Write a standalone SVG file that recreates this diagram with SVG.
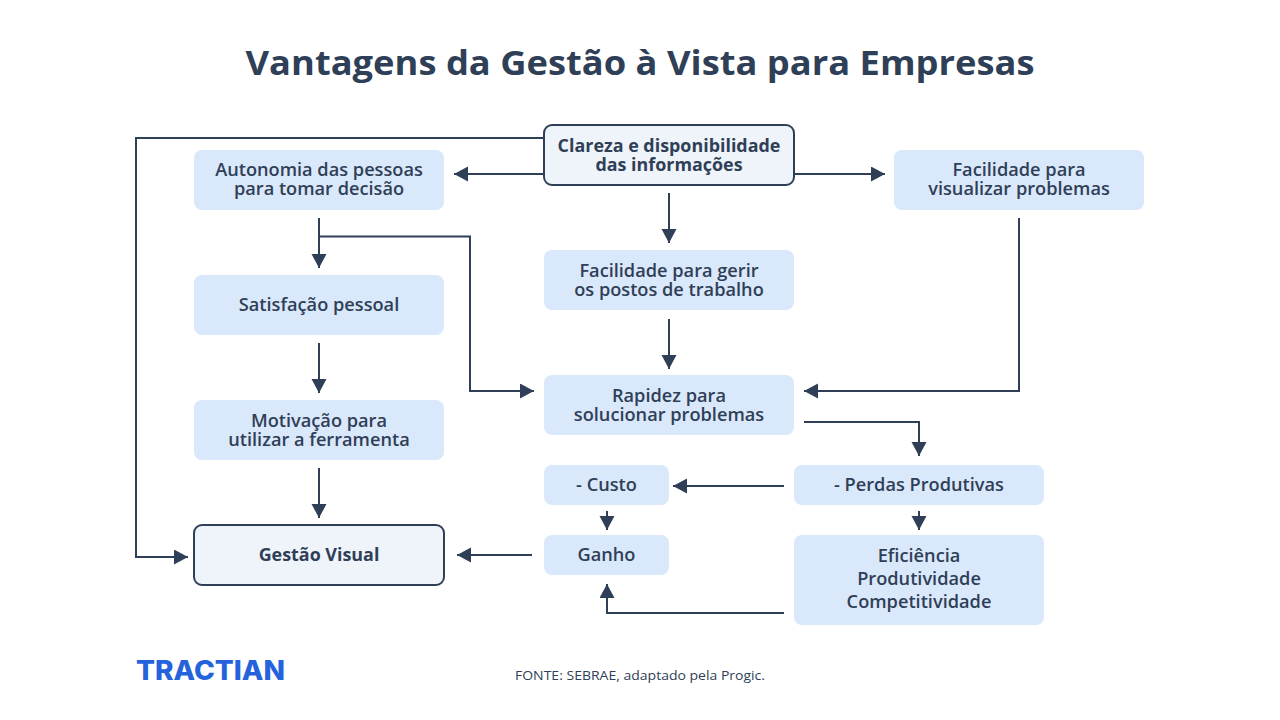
<svg xmlns="http://www.w3.org/2000/svg" width="1280" height="720" viewBox="0 0 1280 720">
<style>
text{font-family:"Open Sans","Noto Sans",sans-serif;fill:#2f3f57;text-anchor:middle}
.t{font-size:18.200px;font-weight:600}
.b{font-size:17.900px;font-weight:700}
.n{fill:#dae8fb}
.k{fill:#eff4fa;stroke:#2f3f57;stroke-width:2}
.c{fill:none;stroke:#2f3f57;stroke-width:2}
</style>
<defs><marker id="a" markerUnits="userSpaceOnUse" markerWidth="16" markerHeight="16" refX="14" refY="7.5" orient="auto"><path d="M0 0L14 7.5L0 15Z" fill="#2f3f57"/></marker></defs>
<rect width="1280" height="720" fill="#fff"/>
<text id="title" x="640" y="75" font-size="34" style="font-weight:700" textLength="789" lengthAdjust="spacingAndGlyphs">Vantagens da Gestão à Vista para Empresas</text>
<g id="connectors">
<path class="c" marker-end="url(#a)" d="M544 138H136V557H188"/>
<path class="c" marker-end="url(#a)" d="M544 174H454"/>
<path class="c" marker-end="url(#a)" d="M794 174H885"/>
<path class="c" marker-end="url(#a)" d="M669 193V243"/>
<path class="c" marker-end="url(#a)" d="M319 218V268"/>
<path class="c" marker-end="url(#a)" d="M319 236.500H470V391H534"/>
<path class="c" marker-end="url(#a)" d="M319 343V393"/>
<path class="c" marker-end="url(#a)" d="M319 468V518"/>
<path class="c" marker-end="url(#a)" d="M669 319V369"/>
<path class="c" marker-end="url(#a)" d="M1019 218V391H804"/>
<path class="c" marker-end="url(#a)" d="M804 422H919V456"/>
<path class="c" marker-end="url(#a)" d="M784 486H673"/>
<path class="c" marker-end="url(#a)" d="M919 511V530"/>
<path class="c" marker-end="url(#a)" d="M607 511V530"/>
<path class="c" marker-end="url(#a)" d="M532 555H457"/>
<path class="c" marker-end="url(#a)" d="M784 613H607V584"/>
</g>
<g id="n1"><rect class="k" x="544" y="125" width="250" height="60" rx="8"/><text class="b" y="152"><tspan x="669">Clareza e disponibilidade</tspan><tspan x="669" dy="19">das informações</tspan></text></g>
<g id="n2"><rect class="n" x="194" y="150" width="250" height="60" rx="8"/><text class="t" y="176"><tspan x="319">Autonomia das pessoas</tspan><tspan x="319" dy="18.500">para tomar decisão</tspan></text></g>
<g id="n3"><rect class="n" x="894" y="150" width="250" height="60" rx="8"/><text class="t" y="176"><tspan x="1019">Facilidade para</tspan><tspan x="1019" dy="18.500">visualizar problemas</tspan></text></g>
<g id="n4"><rect class="n" x="544" y="250" width="250" height="60" rx="8"/><text class="t" y="277"><tspan x="669">Facilidade para gerir</tspan><tspan x="669" dy="18.500">os postos de trabalho</tspan></text></g>
<g id="n5"><rect class="n" x="194" y="275" width="250" height="60" rx="8"/><text class="t" x="319" y="311">Satisfação pessoal</text></g>
<g id="n6"><rect class="n" x="194" y="400" width="250" height="60" rx="8"/><text class="t" y="427"><tspan x="319">Motivação para</tspan><tspan x="319" dy="18.500">utilizar a ferramenta</tspan></text></g>
<g id="n7"><rect class="n" x="544" y="375" width="250" height="60" rx="8"/><text class="t" y="402"><tspan x="669">Rapidez para</tspan><tspan x="669" dy="18.500">solucionar problemas</tspan></text></g>
<g id="n8"><rect class="n" x="794" y="465" width="250" height="40" rx="8"/><text class="t" x="919" y="491">- Perdas Produtivas</text></g>
<g id="n9"><rect class="n" x="544" y="465" width="125" height="40" rx="8"/><text class="t" x="606.500" y="491">- Custo</text></g>
<g id="n10"><rect class="n" x="544" y="535" width="125" height="40" rx="8"/><text class="t" x="606.500" y="561">Ganho</text></g>
<g id="n11"><rect class="k" x="194" y="525" width="250" height="60" rx="8"/><text class="b" x="319" y="561">Gestão Visual</text></g>
<g id="n12"><rect class="n" x="794" y="535" width="250" height="90" rx="8"/><text class="t" y="562"><tspan x="919">Eficiência</tspan><tspan x="919" dy="23">Produtividade</tspan><tspan x="919" dy="23">Competitividade</tspan></text></g>
<text id="logo" x="210.500" y="680" font-size="27" style="font-weight:800;fill:#2563dc;font-family:Inter,sans-serif" textLength="149" lengthAdjust="spacingAndGlyphs">TRACTIAN</text>
<text id="source" x="640" y="680" font-size="13" style="font-weight:400" textLength="250" lengthAdjust="spacingAndGlyphs">FONTE: SEBRAE, adaptado pela Progic.</text>
</svg>
